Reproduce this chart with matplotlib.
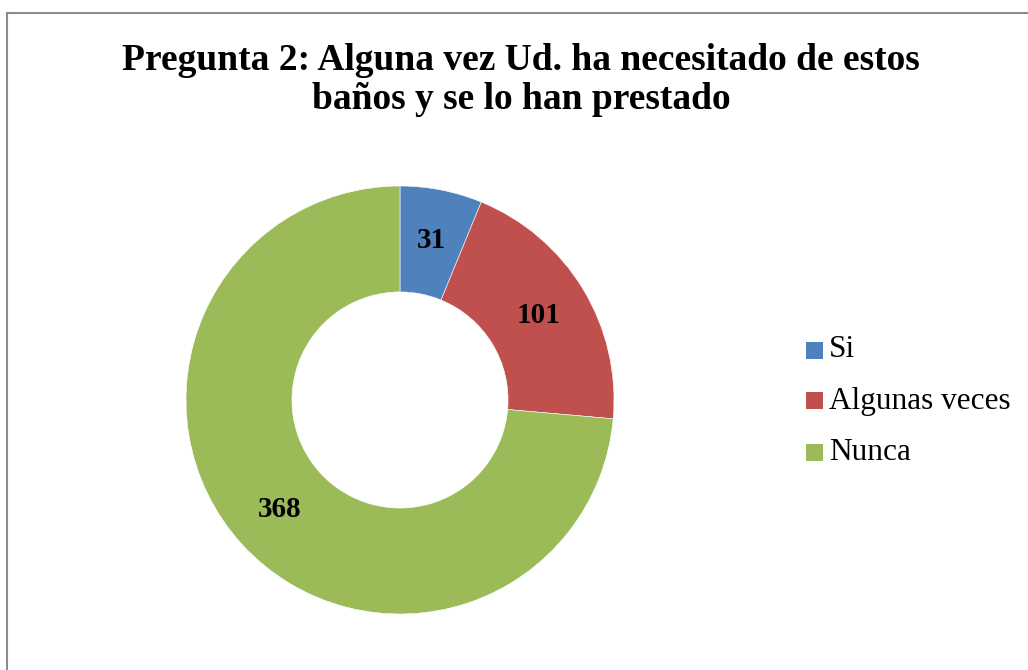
import matplotlib
matplotlib.use("Agg")
import matplotlib.pyplot as plt
from matplotlib.patches import Rectangle

# donnees du graphique
categorias = ['Si', 'Algunas veces', 'Nunca']
valores = [31, 101, 368]
colores = ['#4F81BD', '#C0504D', '#9BBB59']
titulo = 'Pregunta 2: Alguna vez Ud. ha necesitado de estos\nbaños y se lo han prestado'

plt.rcParams['font.family'] = ['Liberation Serif', 'DejaVu Serif']

W, H = 1028, 670
fig = plt.figure(figsize=(W / 100, H / 100), dpi=100)

# cadre gris autour du graphique (coupe a droite et en bas)
fig.patches.append(Rectangle((7 / W, -0.1), 1.1, 1 - 13 / H + 0.1,
                             transform=fig.transFigure, fill=False,
                             edgecolor='#8c8c8c', linewidth=1.5))

# centre du donut (400, 400) px, rayon 214 px
cx, cy, r = 400, 400, 214
ax = fig.add_axes([(cx - r) / W, (H - cy - r) / H, 2 * r / W, 2 * r / H])
wedges, textos = ax.pie(valores, colors=colores, startangle=90, counterclock=False,
                        radius=1, wedgeprops=dict(width=0.495, edgecolor='white', linewidth=0.4),
                        labels=[str(v) for v in valores], labeldistance=0.76,
                        textprops=dict(fontsize=21, fontweight='bold', color='black',
                                       ha='center', va='center'))
ax.set_xlim(-1, 1)
ax.set_ylim(-1, 1)
ax.set_aspect('equal')
ax.axis('off')

fig.text(521 / W, 1 - 80 / H, titulo, ha='center', va='center',
         fontsize=27, fontweight='bold', linespacing=1.12)

# legende
for i, (cat, col) in enumerate(zip(categorias, colores)):
    y = 350 + i * 51
    fig.patches.append(Rectangle((806 / W, 1 - (y + 8.5) / H), 17 / W, 17 / H,
                                 transform=fig.transFigure, facecolor=col, edgecolor='none'))
    fig.text(829 / W, 1 - y / H, cat, ha='left', va='center', fontsize=22.5)

fig.savefig('out.png', dpi=100)
